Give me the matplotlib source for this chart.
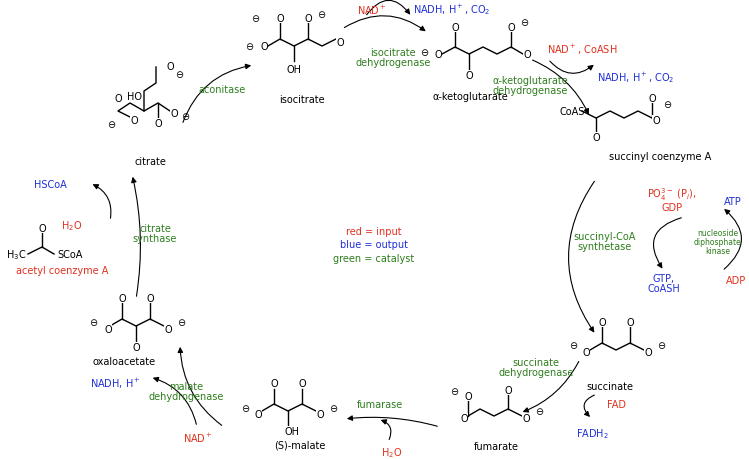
import matplotlib.pyplot as plt
from matplotlib.patches import FancyArrowPatch

RED, BLUE, GREEN = "#e0301e", "#1f2fd6", "#2e7d1e"

# (text, x, y, colour) in pixel coordinates of the 749x460 canvas
labels = [
    ("NAD$^+$", 372, 10, RED), ("NADH, H$^+$, CO$_2$", 452, 10, BLUE),
    ("isocitrate\ndehydrogenase", 393, 58, GREEN), ("isocitrate", 302, 100, "k"),
    ("α-ketoglutarate", 470, 97, "k"), ("α-ketoglutarate\ndehydrogenase", 530, 86, GREEN),
    ("NAD$^+$, CoASH", 582, 50, RED), ("NADH, H$^+$, CO$_2$", 636, 78, BLUE),
    ("succinyl coenzyme A", 660, 157, "k"), ("aconitase", 222, 90, GREEN),
    ("citrate", 150, 162, "k"), ("HSCoA", 50, 185, BLUE), ("H$_2$O", 72, 226, RED),
    ("citrate\nsynthase", 155, 234, GREEN), ("acetyl coenzyme A", 62, 271, RED),
    ("red = input", 374, 232, RED), ("blue = output", 374, 245, BLUE),
    ("green = catalyst", 374, 259, GREEN),
    ("PO$_4^{3-}$ (P$_i$),\nGDP", 672, 200, RED), ("ATP", 733, 202, BLUE),
    ("ADP", 736, 281, RED), ("GTP,\nCoASH", 664, 284, BLUE),
    ("succinyl-CoA\nsynthetase", 605, 242, GREEN), ("succinate", 610, 387, "k"),
    ("succinate\ndehydrogenase", 536, 368, GREEN), ("FAD", 616, 405, RED),
    ("FADH$_2$", 592, 434, BLUE), ("fumarate", 496, 447, "k"),
    ("fumarase", 380, 405, GREEN), ("H$_2$O", 392, 453, RED),
    ("(S)-malate", 300, 446, "k"), ("malate\ndehydrogenase", 186, 392, GREEN),
    ("NADH, H$^+$", 115, 384, BLUE), ("NAD$^+$", 198, 438, RED),
    ("oxaloacetate", 124, 362, "k"),
]
small_labels = [("nucleoside\ndiphosphate\nkinase", 718, 243, GREEN)]

# skeletal structures: bond polylines and atom labels
bonds = [
    # isocitrate
    [(268, 47), (280, 40), (294, 47), (308, 40), (322, 47), (336, 40)],
    [(280, 40), (280, 24)], [(308, 40), (308, 24)], [(294, 47), (294, 62)],
    # alpha-ketoglutarate
    [(442, 55), (455, 48), (469, 55), (483, 48), (497, 55), (511, 48), (523, 55)],
    [(455, 48), (455, 33)], [(469, 55), (469, 70)], [(511, 48), (511, 33)],
    # succinyl CoA
    [(582, 112), (596, 119), (610, 112), (624, 119), (638, 112), (652, 119)],
    [(596, 119), (596, 132)], [(652, 119), (652, 104)],
    # citrate
    [(130, 118), (118, 112), (130, 104), (144, 112), (158, 104), (170, 112)],
    [(144, 112), (144, 92), (156, 84), (156, 68)], [(158, 104), (158, 120)],
    # oxaloacetate
    [(110, 327), (122, 320), (136, 327), (150, 320), (164, 327)],
    [(122, 320), (122, 304)], [(136, 327), (136, 342)], [(150, 320), (150, 304)],
    # malate
    [(262, 412), (274, 405), (288, 412), (302, 405), (316, 412)],
    [(274, 405), (274, 390)], [(288, 412), (288, 426)], [(302, 405), (302, 390)],
    # fumarate
    [(468, 417), (480, 410), (494, 417), (508, 410), (522, 417)],
    [(468, 417), (468, 402)], [(508, 410), (508, 396)],
    # succinate
    [(590, 351), (602, 344), (616, 351), (630, 344), (644, 351)],
    [(602, 344), (602, 328)], [(630, 344), (630, 328)],
    # acetyl CoA
    [(28, 255), (42, 248), (54, 255)], [(42, 248), (42, 234)],
]
atoms = [
    ("O", 264, 47), ("$\\ominus$", 250, 47), ("O", 280, 19), ("$\\ominus$", 256, 18),
    ("O", 308, 19), ("$\\ominus$", 322, 14), ("O", 340, 43), ("OH", 294, 70),
    ("O", 438, 55), ("$\\ominus$", 425, 52), ("O", 455, 28), ("O", 469, 76),
    ("O", 511, 28), ("$\\ominus$", 525, 23), ("O", 527, 55),
    ("CoAS", 572, 112), ("O", 596, 138), ("O", 652, 99), ("$\\ominus$", 668, 104),
    ("O", 656, 121),
    ("O", 134, 121), ("$\\ominus$", 112, 124), ("O", 118, 99), ("HO", 134, 97),
    ("O", 170, 67), ("$\\ominus$", 180, 74), ("O", 158, 124), ("O", 174, 114),
    ("$\\ominus$", 186, 116), ("O", 108, 330), ("$\\ominus$", 94, 323), ("O", 122, 299),
    ("O", 136, 348), ("O", 150, 299), ("O", 168, 330), ("$\\ominus$", 182, 323),
    ("O", 258, 415), ("$\\ominus$", 246, 409), ("O", 274, 384), ("OH", 292, 432),
    ("O", 302, 384), ("O", 320, 415), ("$\\ominus$", 334, 409),
    ("O", 468, 397), ("$\\ominus$", 455, 392), ("O", 464, 419), ("O", 508, 391),
    ("O", 526, 419), ("$\\ominus$", 540, 412),
    ("O", 586, 353), ("$\\ominus$", 574, 346), ("O", 602, 323), ("O", 630, 323),
    ("O", 648, 353), ("$\\ominus$", 662, 346),
    ("H$_3$C", 16, 255), ("SCoA", 70, 255), ("O", 42, 229),
]

# arrows: (start, end, curvature)
arrows = [
    ((182, 126), (254, 66), -0.3), ((342, 30), (428, 34), -0.35),
    ((530, 60), (590, 118), -0.2), ((596, 180), (596, 336), 0.35),
    ((580, 360), (520, 414), -0.2), ((440, 428), (344, 420), 0.1),
    ((224, 428), (180, 345), -0.25), ((136, 300), (132, 175), 0.1),
    # cofactor side arrows
    ((365, 18), (412, 18), -0.7), ((548, 60), (596, 64), 0.5),
    ((684, 218), (664, 272), 0.7), ((722, 272), (722, 208), 0.6),
    ((110, 222), (90, 184), 0.4), ((597, 395), (592, 420), 0.8),
    ((388, 443), (378, 420), 0.6), ((197, 428), (150, 378), 0.3),
]

fig = plt.figure(figsize=(7.49, 4.60), dpi=100)
ax = fig.add_axes([0, 0, 1, 1])
ax.set_xlim(0, 749)
ax.set_ylim(460, 0)
ax.axis("off")

for pts in bonds:
    xs, ys = zip(*pts)
    ax.plot(xs, ys, color="k", lw=1.0)
for t, x, y in atoms:
    ax.text(x, y, t, ha="center", va="center", fontsize=7, color="k",
            bbox=dict(fc="white", ec="none", pad=0.2) if t in ("O", "OH", "HO") else None)
for t, x, y, c in labels:
    ax.text(x, y, t, ha="center", va="center", fontsize=7, color=c, linespacing=1.0)
for t, x, y, c in small_labels:
    ax.text(x, y, t, ha="center", va="center", fontsize=5.5, color=c, linespacing=1.0)
for (p0, p1, rad) in arrows:
    ax.add_patch(FancyArrowPatch(p0, p1, connectionstyle=f"arc3,rad={rad}",
                                 arrowstyle="-|>", mutation_scale=8, lw=0.8, color="k"))

fig.savefig("out.png", dpi=100)
